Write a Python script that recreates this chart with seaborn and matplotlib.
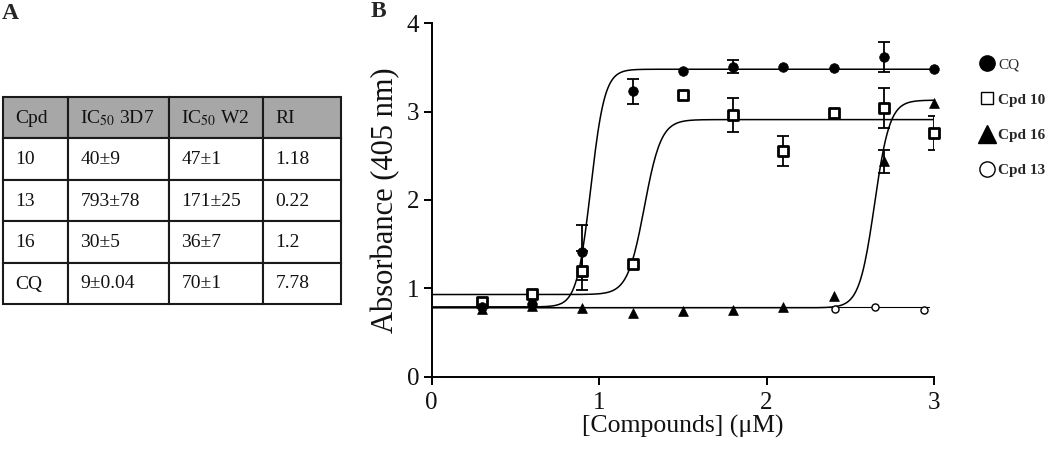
import numpy as np
import pandas as pd
import matplotlib
matplotlib.use("Agg")
import matplotlib.pyplot as plt
import seaborn as sns
from matplotlib.lines import Line2D
from matplotlib.patches import Rectangle

# ---------------- data ----------------
table_header = ["Cpd", "IC$_{50}$ 3D7", "IC$_{50}$ W2", "RI"]
table_cpd = ["10", "13", "16", "CQ"]
table_3d7 = ["40±9", "793±78", "30±5", "9±0.04"]
table_w2 = ["47±1", "171±25", "36±7", "70±1"]
table_ri = ["1.18", "0.22", "1.2", "7.78"]

conc = [0.3, 0.6, 0.9, 1.2, 1.5, 1.8, 2.1, 2.4, 2.7, 3.0]
cq_abs = [0.79, 0.82, 1.41, 3.23, 3.46, 3.51, 3.50, 3.49, 3.62, 3.48]
cq_err = [0, 0, 0.31, 0.14, 0, 0.07, 0, 0, 0.17, 0]
cpd10_abs = [0.85, 0.94, 1.20, 1.27, 3.19, 2.96, 2.56, 2.99, 3.04, 2.76]
cpd10_err = [0, 0, 0.22, 0, 0, 0.19, 0.17, 0, 0.23, 0.19]
cpd16_abs = [0.77, 0.80, 0.78, 0.72, 0.74, 0.755, 0.79, 0.91, 2.44, 3.10]
cpd16_err = [0, 0, 0, 0, 0, 0, 0, 0, 0.13, 0]
cpd13_conc = [2.41, 2.65, 2.94]
cpd13_abs = [0.77, 0.79, 0.755]

# sigmoidal fit parameters (CQ, Cpd 10, Cpd 16, Cpd 13)
fit_names = ["CQ", "Cpd 10", "Cpd 16", "Cpd 13"]
fit_bottom = [0.79, 0.93, 0.78, 0.785]
fit_top = [3.48, 2.91, 3.13, 0.785]
fit_x50 = [0.95, 1.27, 2.645, 2.0]
fit_k = [24, 20, 22, 1]
fit_xmax = [3.0, 3.0, 3.0, 2.97]
fit_lw = [1.1, 1.1, 1.1, 0.8]

# ---------------- style ----------------
sns.set_style("ticks")
plt.rcParams["font.family"] = ["Liberation Serif", "DejaVu Serif"]
plt.rcParams["mathtext.fontset"] = "stix"

W, H = 1050, 463
fig = plt.figure(figsize=(W / 100, H / 100), dpi=100)
fig.patch.set_facecolor("white")

# ---------------- panel A: table ----------------
tx0, tx1, ty0, ty1 = 3, 340.7, 97.3, 304.3
tax = fig.add_axes([tx0 / W, 1 - ty1 / H, (tx1 - tx0) / W, (ty1 - ty0) / H])
tax.set_xlim(tx0, tx1)
tax.set_ylim(ty1, ty0)
tax.axis("off")
col_edges = [3, 68.3, 169.3, 263.3, 340.7]
row_edges = [97.3, 138.3, 180.0, 221.0, 262.7, 304.3]
rows = [table_header] + [list(r) for r in zip(table_cpd, table_3d7, table_w2, table_ri)]
for i, row in enumerate(rows):
    for j, txt in enumerate(row):
        x0, x1 = col_edges[j], col_edges[j + 1]
        y0, y1 = row_edges[i], row_edges[i + 1]
        tax.add_patch(Rectangle((x0, y0), x1 - x0, y1 - y0,
                                facecolor="#a7a7a7" if i == 0 else "white",
                                edgecolor="#1a1a1a", linewidth=1.5, clip_on=False))
        tax.text(x0 + 12, (y0 + y1) / 2 + 0.5, txt, ha="left", va="center",
                 fontsize=14, color="#111111")

fig.text(2 / W, 1 - 3 / H, "A", fontsize=17, fontweight="bold", va="top", ha="left")
fig.text(371 / W, 1 - 1 / H, "B", fontsize=17, fontweight="bold", va="top", ha="left")

# ---------------- panel B: curves ----------------
ax_l, ax_r, ax_b, ax_t = 431.7, 934.0, 376.7, 23.3
ax = fig.add_axes([ax_l / W, 1 - ax_b / H, (ax_r - ax_l) / W, (ax_b - ax_t) / H])

for b, t, x50, k, xm, lw in zip(fit_bottom, fit_top, fit_x50, fit_k, fit_xmax, fit_lw):
    xs = np.linspace(0, xm, 400)
    ys = b + (t - b) / (1 + np.exp(-k * (xs - x50)))
    sns.lineplot(x=xs, y=ys, ax=ax, color="black", lw=lw, zorder=2, estimator=None)

ekw = dict(fmt="none", ecolor="black", elinewidth=1.3, capsize=4.5, capthick=1.3, zorder=3)
for yv, ev in [(cq_abs, cq_err), (cpd10_abs, cpd10_err), (cpd16_abs, cpd16_err)]:
    xe = [x for x, e in zip(conc, ev) if e > 0]
    ye = [y for y, e in zip(yv, ev) if e > 0]
    ee = [e for e in ev if e > 0]
    ax.errorbar(xe, ye, yerr=ee, **ekw)

sns.scatterplot(x=conc, y=cq_abs, ax=ax, marker="o", s=48, color="black",
                edgecolor="black", linewidth=0.5, zorder=5, clip_on=False)
sns.scatterplot(x=conc, y=cpd10_abs, ax=ax, marker="s", s=55, color="white",
                edgecolor="black", linewidth=2.0, zorder=4, clip_on=False)
sns.scatterplot(x=conc, y=cpd16_abs, ax=ax, marker="^", s=50, color="black",
                edgecolor="black", linewidth=0.5, zorder=4, clip_on=False)
sns.scatterplot(x=cpd13_conc, y=cpd13_abs, ax=ax, marker="o", s=26, color="white",
                edgecolor="black", linewidth=1.0, zorder=4, clip_on=False)

ax.set_xlim(0, 3)
ax.set_ylim(0, 4)
ax.set_xticks([0, 1, 2, 3])
ax.set_yticks([0, 1, 2, 3, 4])
ax.set_xticklabels(["0", "1", "2", "3"])
ax.set_yticklabels(["0", "1", "2", "3", "4"])
ax.tick_params(axis="both", labelsize=18, length=6, width=1.4, color="black",
               labelcolor="#111111")
ax.tick_params(axis="y", pad=3)
ax.tick_params(axis="x", pad=5)
for s in ["left", "bottom"]:
    ax.spines[s].set_linewidth(1.4)
    ax.spines[s].set_color("black")
sns.despine(ax=ax)
ax.set_xlabel("[Compounds] (μM)", fontsize=18.5, labelpad=1, color="#111111")
ax.set_ylabel("Absorbance (405 nm)", fontsize=22, labelpad=5, color="#111111")
ax.set_facecolor("white")

handles = [
    Line2D([], [], marker="o", ls="none", color="black", ms=11),
    Line2D([], [], marker="s", ls="none", mfc="white", mec="black", ms=8, mew=1.0),
    Line2D([], [], marker="^", ls="none", color="black", ms=13),
    Line2D([], [], marker="o", ls="none", mfc="white", mec="black", ms=11, mew=1.0),
]
leg = fig.legend(handles, fit_names, loc="upper left", bbox_to_anchor=(979 / W, 1 - 58 / H),
                 frameon=False, fontsize=11, handlelength=1.0, handletextpad=0.25,
                 labelspacing=1.4, borderaxespad=0, borderpad=0)
for i, t in enumerate(leg.get_texts()):
    t.set_fontweight("normal" if i == 0 else "bold")

fig.savefig("out.png", dpi=100, facecolor="white")
